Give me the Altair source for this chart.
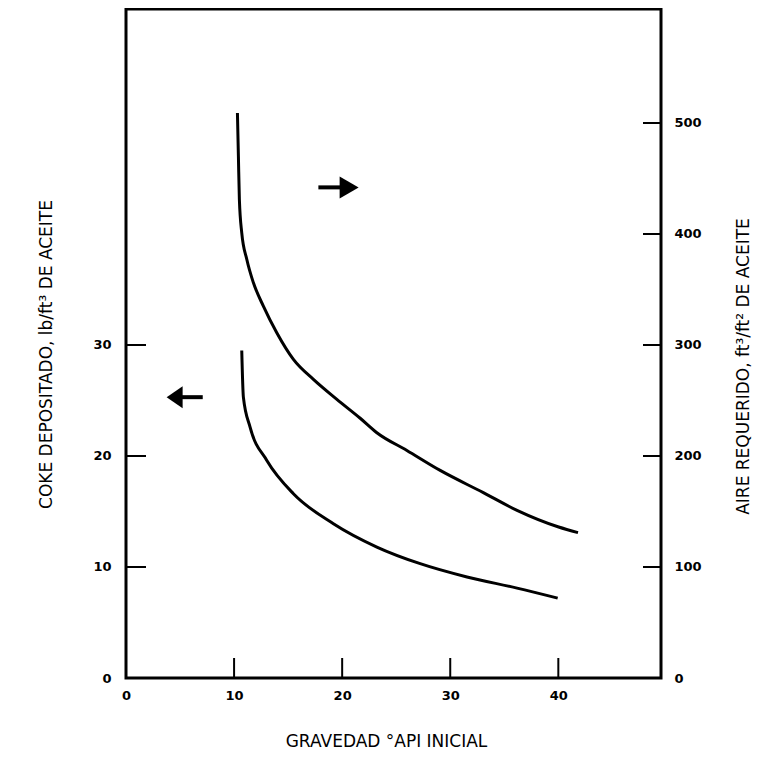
import altair as alt
import pandas as pd

# ---- data ----
api_air = [10.31, 10.40, 10.49, 10.71, 11.18, 11.79, 12.71, 13.95, 15.49, 17.34,
           19.51, 21.67, 23.21, 25.99, 29.07, 33.06, 36.18, 40.03, 41.82]
air = [509, 470, 431, 401, 377, 356, 335, 311, 287, 269,
       251, 234, 221, 205, 187, 167, 151, 136, 131]

api_coke = [10.71, 10.86, 11.48, 13.03, 15.49, 19.19, 23.21, 27.22, 31.55, 36.18, 39.94]
coke = [29.5, 25.3, 22.6, 19.6, 16.6, 13.9, 11.8, 10.3, 9.1, 8.1, 7.2]

x_ticks = [0, 10, 20, 30, 40]
x_inner_ticks = [10, 20, 30, 40]
coke_ticks = [0, 10, 20, 30]
coke_inner_ticks = [10, 20, 30]
air_ticks = [0, 100, 200, 300, 400, 500]
air_inner_ticks = [100, 200, 300, 400, 500]

# annotation arrows (data units): shaft start/end, head position
arrow_air_shaft = [17.8, 20.0]
arrow_air_head = 20.6
arrow_air_level = 442
arrow_coke_shaft = [5.1, 7.1]
arrow_coke_head = 4.5
arrow_coke_level = 25.3

W, H = 535, 669
XS = alt.Scale(domain=[0, 49.5], nice=False, zero=False)
LS = alt.Scale(domain=[0, 60.27], nice=False, zero=False)
RS = alt.Scale(domain=[0, 602.7], nice=False, zero=False)

LABEL_FONT = "DejaVu Sans"
TITLE_FONT = "DejaVu Sans"
TITLE_SIZE = 17
LABEL_SIZE = 13

df_air = pd.DataFrame({"api": api_air, "air": air})
df_coke = pd.DataFrame({"api": api_coke, "coke": coke})

x_axis = alt.Axis(values=x_ticks, ticks=False, tickSize=0, domain=False, grid=False,
                  labelPadding=11, labelFont=LABEL_FONT, labelFontSize=LABEL_SIZE,
                  labelFontWeight="bold", labelColor="black",
                  title="GRAVEDAD °API INICIAL", titleFont=TITLE_FONT,
                  titleFontSize=TITLE_SIZE, titleFontWeight="normal", titleColor="black",
                  titleX=260, titleY=63, titleAlign="center", titleBaseline="middle",
                  labelFlush=False)


def xenc(field):
    return alt.X(field, type="quantitative", scale=XS, axis=x_axis)


coke_line = alt.Chart(df_coke).mark_line(color="black", strokeWidth=3,
                                         interpolate="monotone").encode(
    x=xenc("api"),
    y=alt.Y("coke:Q", scale=LS, axis=alt.Axis(
        values=coke_ticks, ticks=False, tickSize=0, domain=False, grid=False,
        labelPadding=15, labelFont=LABEL_FONT, labelFontSize=LABEL_SIZE,
        labelFontWeight="bold", labelColor="black",
        title="COKE DEPOSITADO, lb/ft³ DE ACEITE", titleFont=TITLE_FONT,
        titleFontSize=TITLE_SIZE, titleFontWeight="normal", titleColor="black",
        titleAngle=270, titleX=-80, titleY=345, titleAlign="center",
        titleBaseline="middle", labelFlush=False)),
)

air_line = alt.Chart(df_air).mark_line(color="black", strokeWidth=3,
                                       interpolate="monotone").encode(
    x=xenc("api"),
    y=alt.Y("air:Q", scale=RS, axis=alt.Axis(
        orient="right", values=air_ticks, ticks=False, tickSize=0, domain=False,
        grid=False, labelPadding=13, labelFont=LABEL_FONT, labelFontSize=LABEL_SIZE,
        labelFontWeight="bold", labelColor="black",
        title="AIRE REQUERIDO, ft³/ft² DE ACEITE", titleFont=TITLE_FONT,
        titleFontSize=TITLE_SIZE, titleFontWeight="normal", titleColor="black",
        titleAngle=270, titleX=82, titleY=357, titleAlign="center",
        titleBaseline="middle", labelFlush=False)),
)

# inward tick marks
xt = alt.Chart(pd.DataFrame({"v": x_inner_ticks})).mark_rule(color="black", strokeWidth=2).encode(
    x=xenc("v"), y=alt.value(H), y2=alt.value(H - 20))
lt = alt.Chart(pd.DataFrame({"v": coke_inner_ticks})).mark_rule(color="black", strokeWidth=2).encode(
    y=alt.Y("v:Q", scale=LS, axis=None), x=alt.value(0), x2=alt.value(20))
rt = alt.Chart(pd.DataFrame({"v": air_inner_ticks})).mark_rule(color="black", strokeWidth=2).encode(
    y=alt.Y("v:Q", scale=RS, axis=None), x=alt.value(W - 18), x2=alt.value(W))

# arrows
df_a1 = pd.DataFrame({"x": [arrow_air_shaft[0]], "x2": [arrow_air_shaft[1]], "y": [arrow_air_level]})
a1_shaft = alt.Chart(df_a1).mark_rule(color="black", strokeWidth=4).encode(
    x=xenc("x"), x2="x2:Q", y=alt.Y("y:Q", scale=RS, axis=None))
a1_head = alt.Chart(pd.DataFrame({"x": [arrow_air_head], "y": [arrow_air_level]})).mark_point(
    shape="M-0.9,-1.1L1,0L-0.9,1.1Z", filled=True, color="black", opacity=1, size=400).encode(
    x=xenc("x"), y=alt.Y("y:Q", scale=RS, axis=None))

df_a2 = pd.DataFrame({"x": [arrow_coke_shaft[0]], "x2": [arrow_coke_shaft[1]], "y": [arrow_coke_level]})
a2_shaft = alt.Chart(df_a2).mark_rule(color="black", strokeWidth=4).encode(
    x=xenc("x"), x2="x2:Q", y=alt.Y("y:Q", scale=LS, axis=None))
a2_head = alt.Chart(pd.DataFrame({"x": [arrow_coke_head], "y": [arrow_coke_level]})).mark_point(
    shape="M0.8,-1.1L-0.8,0L0.8,1.1Z", filled=True, color="black", opacity=1, size=400).encode(
    x=xenc("x"), y=alt.Y("y:Q", scale=LS, axis=None))

chart = alt.layer(
    coke_line, air_line, xt, lt, rt, a1_shaft, a1_head, a2_shaft, a2_head
).resolve_scale(y="independent").properties(
    width=W, height=H,
    autosize=alt.AutoSizeParams(type="none"),
    padding={"left": 118, "top": 1, "right": 95, "bottom": 85},
    background="white",
).configure_view(stroke="black", strokeWidth=3)

chart.save("out.html", embed_options={"renderer": "svg", "actions": False})
